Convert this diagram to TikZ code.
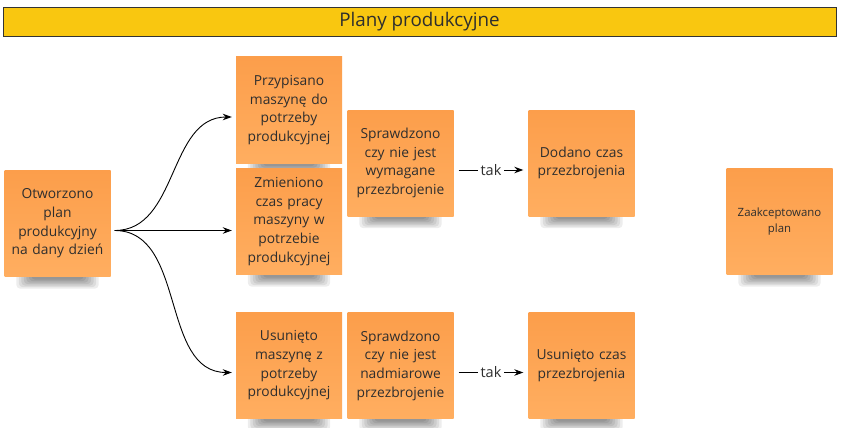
\documentclass[tikz,border=0pt]{standalone}
\usepackage{fontspec}
\setmainfont{Open Sans}
\usetikzlibrary{arrows.meta,backgrounds}
\definecolor{titlebg}{HTML}{F9C710}
\definecolor{notetop}{HTML}{FC9E4B}
\definecolor{notebot}{HTML}{FFAE60}
\definecolor{txt}{HTML}{2E2E2E}
\tikzset{
  note/.style={shape=rectangle, top color=notetop, bottom color=notebot, draw=none,
    minimum width=106pt, minimum height=106pt, inner sep=0pt, text width=104pt,
    align=center, text=txt, font=\fontsize{13.8}{18.7}\selectfont},
  smallnote/.style={note, font=\fontsize{11.4}{15.7}\selectfont},
  arr/.style={-{Stealth[length=9pt,width=6.5pt]}, line width=0.9pt, black},
  lbl/.style={fill=white, inner sep=2.5pt, text=txt, font=\fontsize{14.5}{16}\selectfont}
}
\begin{document}
\begin{tikzpicture}[x=1pt,y=-1pt]
\useasboundingbox (0,0) rectangle (841,428);
\node[draw=black!80, line width=0.8pt, fill=titlebg, minimum width=833pt, minimum height=29pt,
  inner sep=0pt, text=txt, font=\fontsize{18.8}{22}\selectfont] (title) at (419.5,21.5) {Plany produkcyjne};

\node[note] (o) at (57.5,223.5) {Otworzono\\plan\\produkcyjny\\na dany dzień};
\node[note] (p) at (289,110) {Przypisano\\maszynę do\\potrzeby\\produkcyjnej};
\node[note] (z) at (289,221.5) {Zmieniono\\czas pracy\\maszyny w\\potrzebie\\produkcyjnej};
\node[note] (s1) at (400.5,163) {Sprawdzono\\czy nie jest\\wymagane\\przezbrojenie};
\node[note] (d1) at (581.5,163) {Dodano czas\\przezbrojenia};
\node[smallnote] (za) at (779.5,221.5) {Zaakceptowano\\plan};
\node[note] (u) at (289,365.5) {Usunięto\\maszynę z\\potrzeby\\produkcyjnej};
\node[note] (s2) at (400.5,365.5) {Sprawdzono\\czy nie jest\\nadmiarowe\\przezbrojenie};
\node[note] (u2) at (581.5,365.5) {Usunięto czas\\przezbrojenia};

\begin{scope}[on background layer]
\fill[white] (0,0) rectangle (841,428);
\foreach \n in {o,p,z,s1,d1,za,u,s2,u2}{
  \foreach \k in {0,...,6}{
    \fill[black, opacity=0.07, rounded corners=4pt]
      ([xshift={12pt+2.5pt*\k}, yshift=8pt]\n.south west) rectangle
      ([xshift={-12pt-2.5pt*\k}, yshift={-12pt+1.5pt*\k}]\n.south east);
  }
}
\end{scope}

\coordinate (os) at ([yshift=-7pt, xshift=4pt]o.east);
\draw[arr] (os) to[out=0,in=180] ([yshift=-7pt, xshift=-4pt]p.west);
\draw[arr] (os) -- ([xshift=-4pt]os -| z.west);
\draw[arr] (os) to[out=0,in=180] ([yshift=-7pt, xshift=-4pt]u.west);

\draw[arr] ([yshift=-7pt, xshift=5pt]s1.east) -- node[lbl] {tak} ([yshift=-7pt, xshift=-5pt]d1.west);
\draw[arr] ([yshift=-7pt, xshift=5pt]s2.east) -- node[lbl] {tak} ([yshift=-7pt, xshift=-5pt]u2.west);
\end{tikzpicture}
\end{document}
